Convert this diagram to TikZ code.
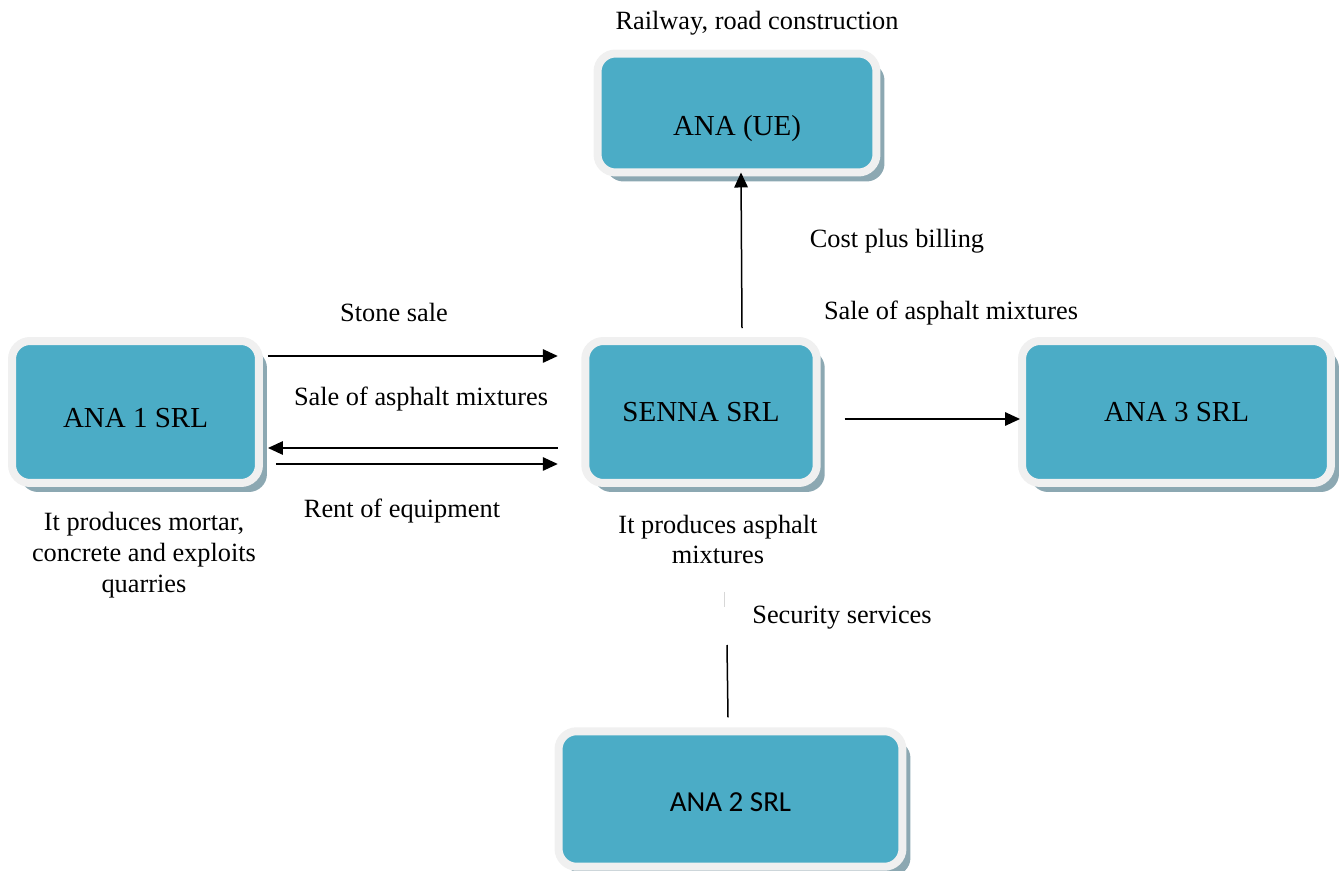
\documentclass[tikz,border=0pt]{standalone}
\usepackage{fontspec}
\setmainfont{Liberation Serif}
\newfontfamily\calibrifont{Carlito}
\usetikzlibrary{calc,arrows.meta,shadows,positioning}
\definecolor{boxteal}{RGB}{75,172,198}
\definecolor{boxrim}{RGB}{240,240,240}
\definecolor{boxshade}{RGB}{140,168,178}
\definecolor{faintline}{RGB}{215,215,215}

\tikzset{
  entity/.style={rectangle, rounded corners=0.36cm, fill=boxteal, draw=boxrim,
    line width=0.16cm, inner sep=0pt, font=\fontsize{16.5}{20}\selectfont,
    drop shadow={shadow xshift=0.16cm, shadow yshift=-0.18cm, fill=boxshade, opacity=1}},
  flow/.style={-{Triangle[length=0.3cm,width=0.27cm]}, line width=0.03cm},
  note/.style={font=\fontsize{15}{17.6}\selectfont, align=center, inner sep=0pt}
}

\begin{document}
\begin{tikzpicture}[x=0.02cm, y=-0.02cm]
\useasboundingbox (0,0) rectangle (1343,871);

% companies
\node[entity, minimum width=5.58cm, minimum height=2.38cm, text height=1.04cm, text depth=0.15cm] (anaue) at (737,113) {ANA (UE)};
\node[entity, minimum width=4.94cm, minimum height=2.84cm, text height=0.63cm, text depth=0pt] (ana1) at (135.5,412) {ANA 1 SRL};
\node[entity, minimum width=4.63cm, minimum height=2.84cm] (senna) at (701,412) {SENNA SRL};
\node[entity, minimum width=6.18cm, minimum height=2.84cm] (ana3) at (1176.5,412) {ANA 3 SRL};
\node[entity, minimum width=6.88cm, minimum height=2.71cm, text height=0.5cm, text depth=0pt, font=\calibrifont\fontsize{16.5}{20}\selectfont] (ana2) at (730.5,799) {ANA 2 SRL};

% what each one does
\node[note] (railway) at (757,23) {Railway, road construction};
\node[note] (mortar) at (144,555) {It produces mortar,\\concrete and exploits\\quarries};
\node[note] (asphalt) at (718,539.5) {It produces asphalt\\mixtures};

% flows between ANA 1 and SENNA
\draw[flow] ($(ana1.east)+(5,-56)$) -- ($(senna.west)+(-23.5,-56)$);
\node[note] (stonesale) at (394,312) {Stone sale};
\node[note] (asphaltleft) at (421,399) {Sale of asphalt mixtures};
\draw[flow] ($(senna.west)+(-23.5,36)$) -- ($(ana1.east)+(5,36)$);
\draw[flow] ($(ana1.east)+(13,52)$) -- ($(senna.west)+(-23.5,52)$);
\node[note] (rent) at (402,511) {Rent of equipment};

% SENNA to ANA (UE) and ANA 3
\draw[flow] ($(senna.north)+(41,-9)$) -- ($(anaue.south)+(4,-4)$);
\node[note] (costplus) at (897,241) {Cost plus billing};
\draw[flow] ($(senna.east)+(24,7)$) -- ($(ana3.west)+(2,7)$);
\node[note] (asphaltright) at (951,313) {Sale of asphalt mixtures};

% ANA 2 security
\coordinate (sectop) at (727,645);
\draw[line width=0.03cm] ($(ana2.north)+(-2.5,-10)$) -- (sectop);
\draw[faintline, line width=0.02cm] ($(sectop)+(-3,-53)$) -- ($(sectop)+(-3,-38)$);
\node[note] (security) at (842,618) {Security services};
\end{tikzpicture}
\end{document}
